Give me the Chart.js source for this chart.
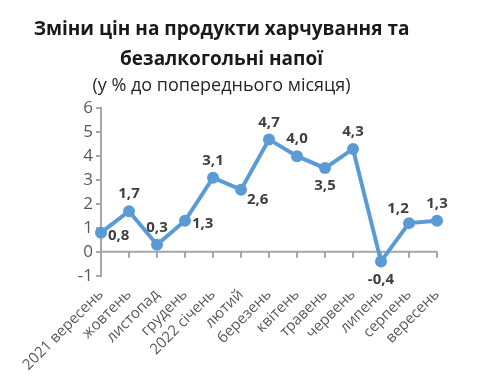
<!DOCTYPE html>
<html>
<head>
<meta charset="utf-8">
<script src="https://cdn.jsdelivr.net/npm/chart.js@4.4.0/dist/chart.umd.min.js"></script>
<style>
  html, body { margin: 0; padding: 0; background: #ffffff; }
  #wrap { width: 480px; height: 380px; }
</style>
</head>
<body>
<div id="wrap"><canvas id="myChart" width="480" height="380"></canvas></div>
<script>
// дані з графіка
const months = ['2021 вересень', 'жовтень', 'листопад', 'грудень', '2022 січень', 'лютий',
    'березень', 'квітень', 'травень', 'червень', 'липень', 'серпень', 'вересень'];
const priceChange = [0.8, 1.7, 0.3, 1.3, 3.1, 2.6, 4.7, 4.0, 3.5, 4.3, -0.4, 1.2, 1.3];
const yTicks = [-1, 0, 1, 2, 3, 4, 5, 6];
// де стоїть підпис відносно точки
const labelPlace = ['r', 'a', 'a', 'r', 'a', 'rb', 'a', 'a', 'b', 'a', 'b', 'al', 'a'];

const axisGray = '#a6a6a6';
const textGray = '#595959';
const FONT = '"Open Sans", "Noto Sans", sans-serif';

// лінія нуля з рисками (вісь X перетинає Y в 0)
const zeroAxis = {
    id: 'zeroAxis',
    beforeDatasetsDraw(chart) {
        const ctx = chart.ctx;
        const x = chart.scales.x, y = chart.scales.y;
        const y0 = y.getPixelForValue(0);
        ctx.save();
        ctx.strokeStyle = axisGray;
        ctx.lineWidth = 2;
        ctx.beginPath();
        ctx.moveTo(x.left, y0);
        ctx.lineTo(x.right, y0);
        for (let i = 0; i < months.length; i++) {
            const px = x.getPixelForTick(i);
            ctx.moveTo(px, y0);
            ctx.lineTo(px, y0 + 6);
        }
        ctx.stroke();
        ctx.restore();
    }
};

// підписи значень
const valueLabels = {
    id: 'valueLabels',
    afterDatasetsDraw(chart) {
        const ctx = chart.ctx;
        const meta = chart.getDatasetMeta(0);
        ctx.save();
        ctx.font = 'bold 15px ' + FONT;
        ctx.fillStyle = '#404040';
        ctx.textBaseline = 'middle';
        meta.data.forEach((pt, i) => {
            const txt = priceChange[i].toFixed(1).replace('.', ',');
            let dx = 0, dy = 0;
            ctx.textAlign = 'center';
            switch (labelPlace[i]) {
                case 'a': dy = -17; break;
                case 'b': dy = 18; break;
                case 'r': ctx.textAlign = 'left'; dx = 7; dy = 3; break;
                case 'rb': ctx.textAlign = 'left'; dx = 6; dy = 10; break;
                case 'al': dx = -11; dy = -14; break;
            }
            ctx.fillText(txt, pt.x + dx, pt.y + dy);
        });
        ctx.restore();
    }
};

new Chart(document.getElementById('myChart'), {
    type: 'line',
    data: {
        labels: months,
        datasets: [{
            data: priceChange,
            borderColor: '#5b9bd5',
            backgroundColor: '#5b9bd5',
            borderWidth: 4,
            pointRadius: 6,
            pointBackgroundColor: '#5b9bd5',
            pointBorderWidth: 0,
            tension: 0
        }]
    },
    options: {
        responsive: false,
        animation: false,
        layout: { padding: { left: 6, right: 43, top: 6, bottom: 4 } },
        plugins: {
            legend: { display: false },
            tooltip: { enabled: false },
            title: {
                display: true,
                text: ['Зміни цін на продукти харчування та', 'безалкогольні напої'],
                color: '#1a1a1a',
                font: { family: FONT, size: 19, weight: 'bold', lineHeight: 1.55 },
                padding: { top: 9, bottom: 0 }
            },
            subtitle: {
                display: true,
                text: '(у % до попереднього місяця)',
                color: '#262626',
                font: { family: FONT, size: 18, lineHeight: 1.3 },
                padding: { top: 0, bottom: 11 }
            }
        },
        scales: {
            x: {
                offset: false,
                grid: { display: false },
                border: { display: false },
                ticks: {
                    color: textGray,
                    font: { family: FONT, size: 15 },
                    maxRotation: 45,
                    minRotation: 45,
                    autoSkip: false,
                    padding: 2
                }
            },
            y: {
                min: -1,
                max: 6,
                afterBuildTicks: axis => { axis.ticks = yTicks.map(v => ({ value: v })); },
                afterFit: axis => { axis.width = 95; },
                grid: { drawOnChartArea: false, drawTicks: true, tickLength: 5, color: axisGray, lineWidth: 2 },
                border: { display: true, color: axisGray, width: 2 },
                ticks: {
                    color: textGray,
                    font: { family: FONT, size: 17 },
                    padding: 3
                }
            }
        }
    },
    plugins: [zeroAxis, valueLabels]
});
</script>
</body>
</html>
